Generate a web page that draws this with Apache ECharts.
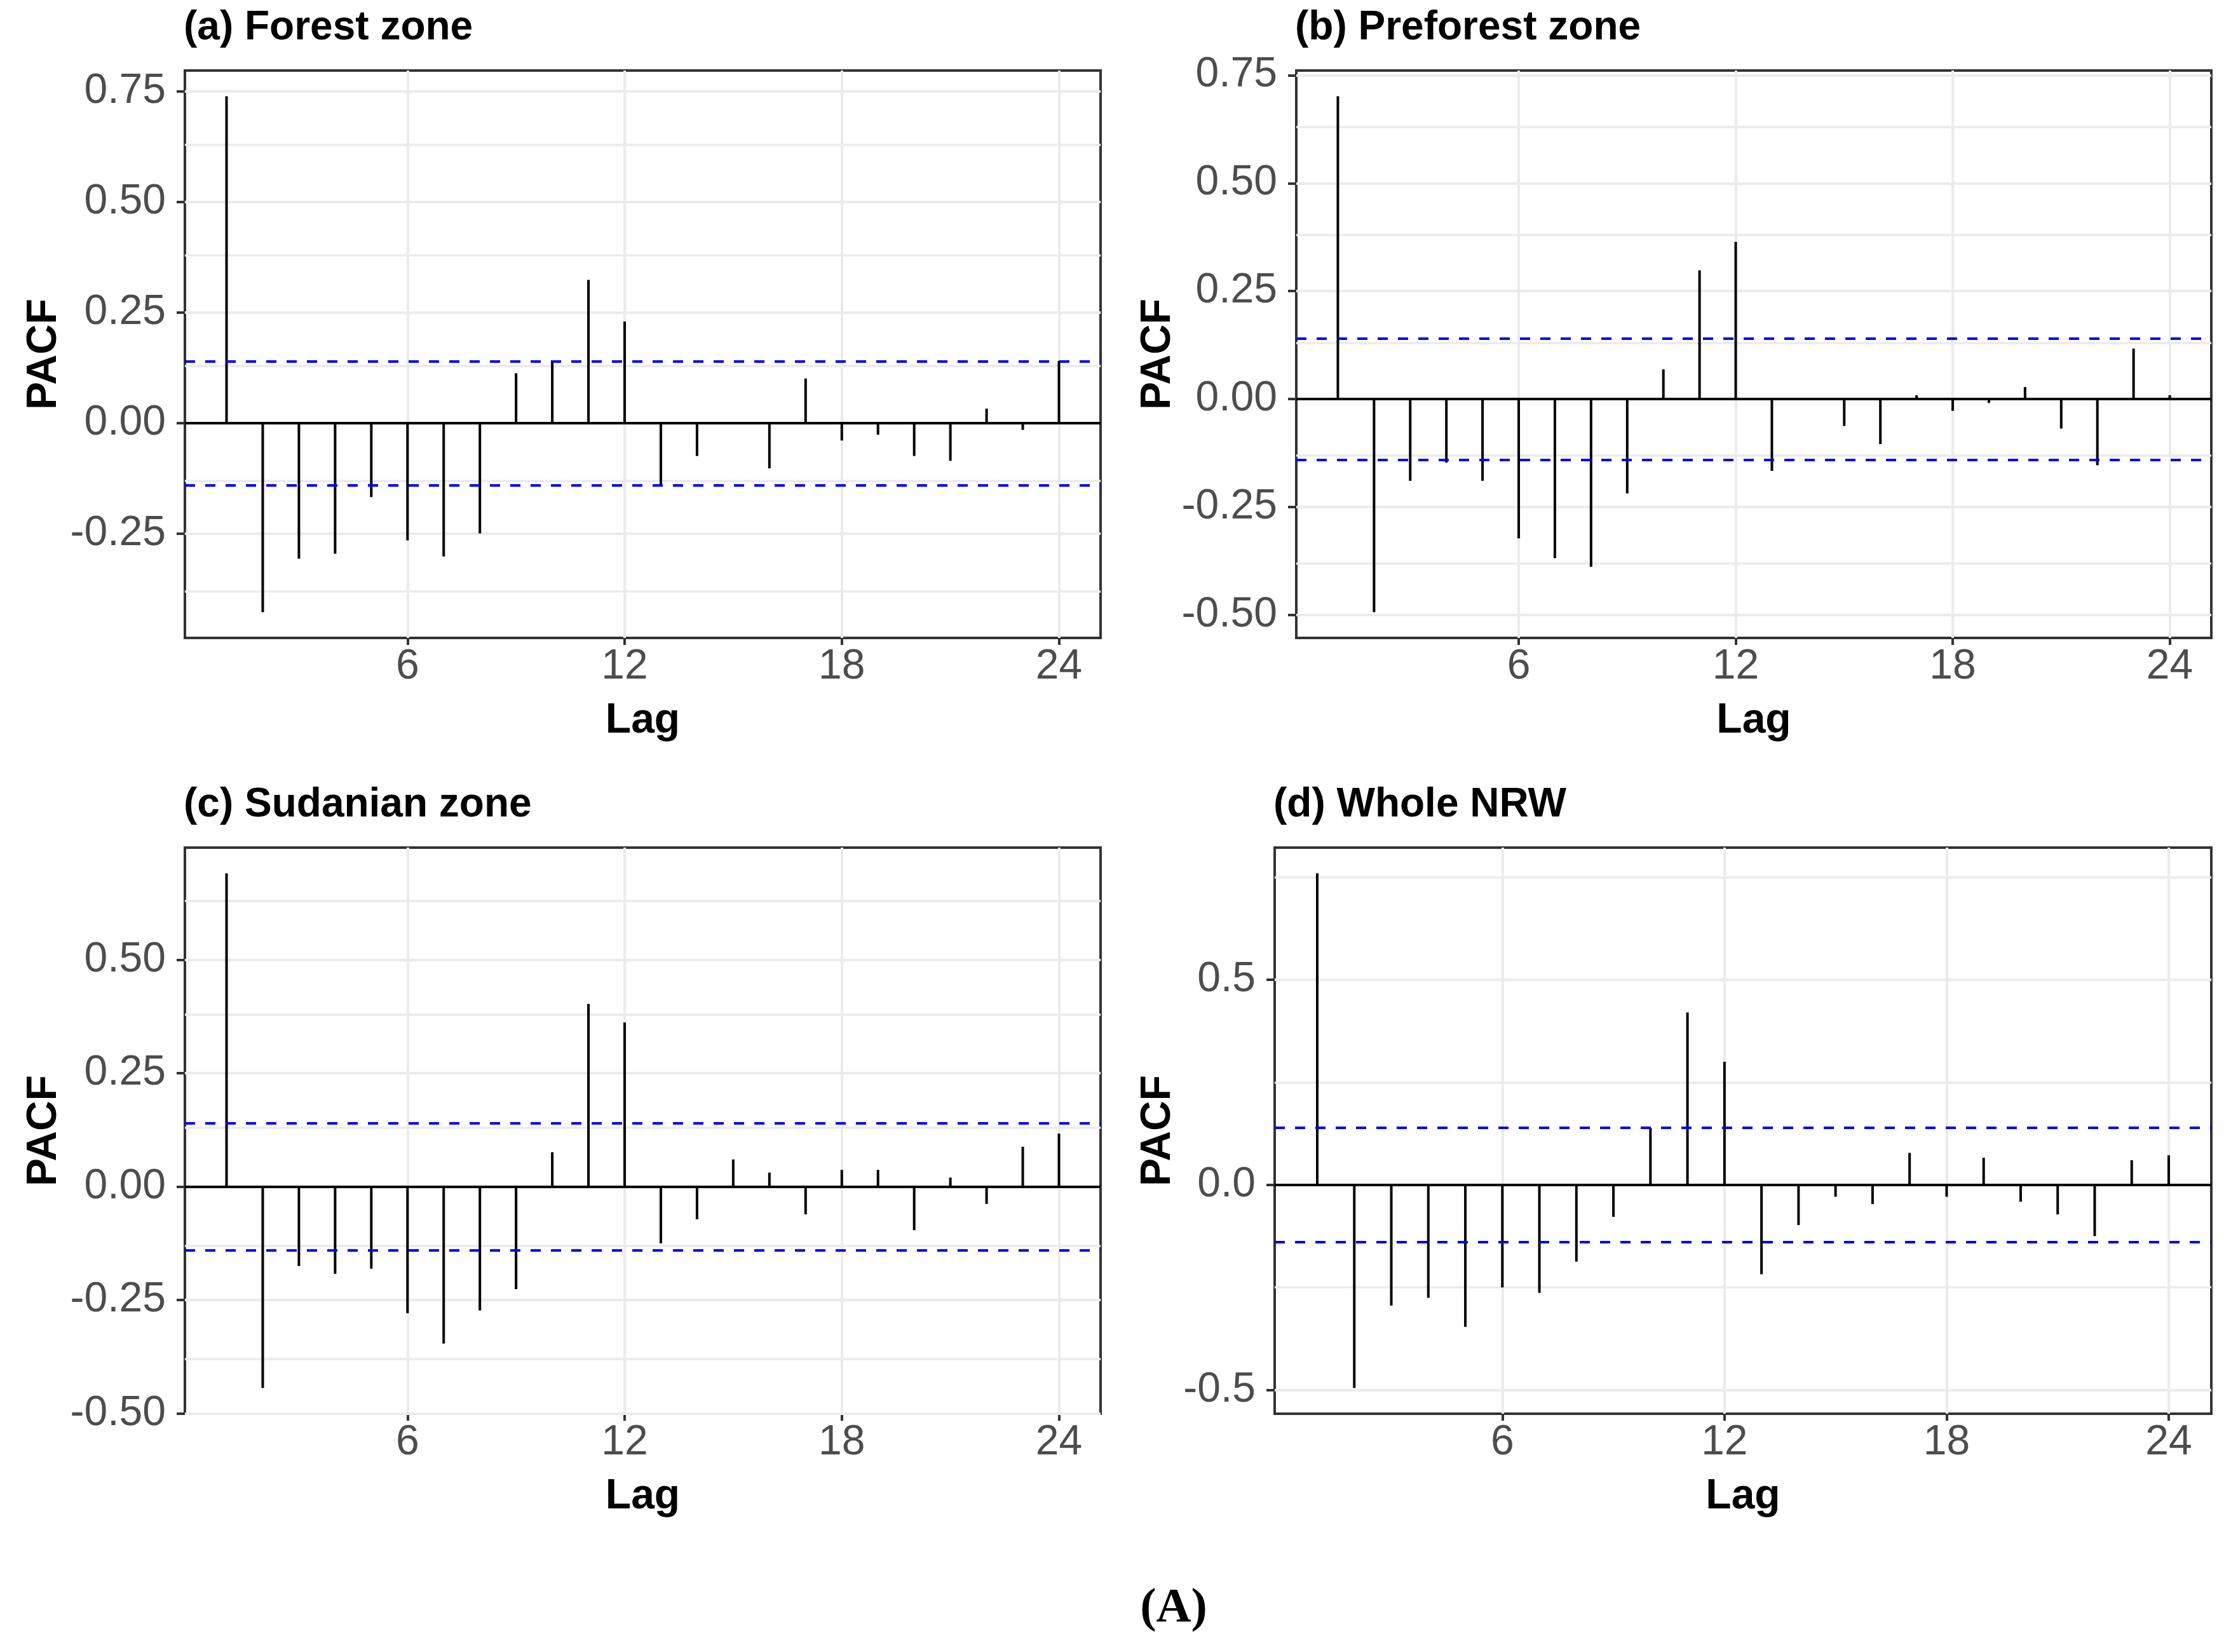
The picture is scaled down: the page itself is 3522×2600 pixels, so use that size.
<!DOCTYPE html>
<html>
<head>
<meta charset="utf-8">
<script src="https://cdn.jsdelivr.net/npm/echarts@6/dist/echarts.min.js"></script>
<style>
html,body{margin:0;padding:0;background:#ffffff;}
#chart{width:3522px;height:2600px;}
</style>
</head>
<body>
<div id="chart"></div>
<script>
// ---------------- data ----------------
const lags = [1,2,3,4,5,6,7,8,9,10,11,12,13,14,15,16,17,18,19,20,21,22,23,24];

const forestPacf    = [0.739,-0.427,-0.306,-0.295,-0.167,-0.265,-0.301,-0.249,0.113,0.141,0.324,0.230,-0.141,-0.074,0.002,-0.102,0.101,-0.039,-0.026,-0.074,-0.085,0.033,-0.015,0.141];
const preforestPacf = [0.701,-0.493,-0.189,-0.147,-0.189,-0.322,-0.368,-0.388,-0.218,0.069,0.298,0.364,-0.166,-0.002,-0.062,-0.104,0.009,-0.027,-0.009,0.028,-0.068,-0.153,0.117,0.009];
const sudanianPacf  = [0.691,-0.444,-0.175,-0.192,-0.181,-0.279,-0.346,-0.273,-0.226,0.076,0.403,0.362,-0.125,-0.072,0.060,0.031,-0.061,0.037,0.037,-0.096,0.020,-0.038,0.088,0.117];
const wholePacf     = [0.759,-0.495,-0.294,-0.275,-0.346,-0.250,-0.263,-0.187,-0.078,0.139,0.420,0.300,-0.218,-0.098,-0.029,-0.047,0.078,-0.029,0.066,-0.041,-0.072,-0.125,0.060,0.072];

const ciBound = 0.14;

const panelTitles = ['(a) Forest zone', '(b) Preforest zone', '(c) Sudanian zone', '(d) Whole NRW'];
const xTickValues = [6, 12, 18, 24];
const yTicksA = [-0.25, 0, 0.25, 0.5, 0.75];
const yTicksB = [-0.5, -0.25, 0, 0.25, 0.5, 0.75];
const yTicksC = [-0.5, -0.25, 0, 0.25, 0.5];
const yTicksD = [-0.5, 0, 0.5];
const yMinorA = [-0.375, -0.125, 0.125, 0.375, 0.625];
const yMinorB = [-0.375, -0.125, 0.125, 0.375, 0.625];
const yMinorC = [-0.375, -0.125, 0.125, 0.375, 0.625];
const yMinorD = [-0.25, 0.25, 0.75];
const xAxisTitle = 'Lag';
const yAxisTitle = 'PACF';
const captionText = '(A)';

// ---------------- layout ----------------
const FONT = "'Liberation Sans', Arial, sans-serif";
const panels = [
  {title: panelTitles[0], values: forestPacf,    ticks: yTicksA, minor: yMinorA, dec: 2, left: 291,  top: 111,  width: 1441, height: 893, nameGap: 188},
  {title: panelTitles[1], values: preforestPacf, ticks: yTicksB, minor: yMinorB, dec: 2, left: 2040, top: 111,  width: 1440, height: 893, nameGap: 181},
  {title: panelTitles[2], values: sudanianPacf,  ticks: yTicksC, minor: yMinorC, dec: 2, left: 291,  top: 1334, width: 1441, height: 891, nameGap: 188},
  {title: panelTitles[3], values: wholePacf,     ticks: yTicksD, minor: yMinorD, dec: 1, left: 2006, top: 1334, width: 1474, height: 891, nameGap: 150}
];

// ggplot-style 5% expansion
function expandRange(lo, hi) {
  const s = hi - lo;
  return [lo - 0.05 * s, hi + 0.05 * s];
}
const xRange = expandRange(Math.min(...lags), Math.max(...lags));

const grids = [], xAxes = [], yAxes = [], series = [], graphics = [];
const GRID_COLOR = '#EBEBEB';

panels.forEach((p, i) => {
  const yr = expandRange(Math.min(...p.values, -ciBound), Math.max(...p.values, ciBound));
  grids.push({
    left: p.left, top: p.top, width: p.width, height: p.height,
    show: true, borderColor: '#333333', borderWidth: 4, backgroundColor: 'transparent'
  });
  xAxes.push({
    gridIndex: i, type: 'value', min: xRange[0], max: xRange[1],
    axisLine: {show: false, onZero: false},
    axisTick: {show: true, customValues: xTickValues, length: 11, lineStyle: {color: '#333333', width: 4}},
    axisLabel: {customValues: xTickValues, margin: 13, fontSize: 66, color: '#4D4D4D', fontFamily: FONT},
    splitLine: {show: false},
    name: xAxisTitle, nameLocation: 'middle', nameGap: 98,
    nameTextStyle: {fontSize: 66, fontWeight: 'bold', color: '#000000', fontFamily: FONT}
  });
  yAxes.push({
    gridIndex: i, type: 'value', min: yr[0], max: yr[1],
    axisLine: {show: false, onZero: false},
    axisTick: {show: true, customValues: p.ticks, length: 13, lineStyle: {color: '#333333', width: 4}},
    axisLabel: {customValues: p.ticks, margin: 30, fontSize: 66, color: '#4D4D4D', fontFamily: FONT,
                formatter: (v) => Number(v).toFixed(p.dec)},
    splitLine: {show: false},
    name: yAxisTitle, nameLocation: 'middle', nameRotate: 90, nameGap: p.nameGap,
    nameTextStyle: {fontSize: 66, fontWeight: 'bold', color: '#000000', fontFamily: FONT}
  });

  // background grid lines
  const gridLines = [];
  xTickValues.forEach(v => gridLines.push({xAxis: v, lineStyle: {color: GRID_COLOR, width: 4, type: 'solid'}}));
  p.ticks.forEach(v => gridLines.push({yAxis: v, lineStyle: {color: GRID_COLOR, width: 4, type: 'solid'}}));
  p.minor.forEach(v => gridLines.push({yAxis: v, lineStyle: {color: GRID_COLOR, width: 3.5, type: 'solid'}}));
  series.push({
    type: 'line', xAxisIndex: i, yAxisIndex: i, data: [], silent: true, z: 1,
    markLine: {silent: true, z: 1, symbol: ['none', 'none'], label: {show: false}, animation: false, data: gridLines}
  });

  // zero line
  series.push({
    type: 'line', xAxisIndex: i, yAxisIndex: i, data: [], silent: true, z: 2,
    markLine: {silent: true, z: 2, symbol: ['none', 'none'], label: {show: false}, animation: false,
      data: [{yAxis: 0, lineStyle: {color: '#000000', width: 4, type: 'solid'}}]}
  });

  // PACF segments
  series.push({
    type: 'bar', xAxisIndex: i, yAxisIndex: i, z: 3,
    barWidth: 4, silent: true,
    itemStyle: {color: '#000000'},
    data: lags.map((l, k) => [l, p.values[k]])
  });

  // confidence bounds
  series.push({
    type: 'line', xAxisIndex: i, yAxisIndex: i, data: [], silent: true, z: 4,
    markLine: {silent: true, z: 6, symbol: ['none', 'none'], label: {show: false}, animation: false,
      data: [
        {yAxis: ciBound, lineStyle: {color: '#0000FF', width: 4, type: [16, 16]}},
        {yAxis: -ciBound, lineStyle: {color: '#0000FF', width: 4, type: [16, 16]}}
      ]}
  });

  // panel title
  graphics.push({
    type: 'text', left: p.left - 2, top: p.top - 70 - 29, silent: true,
    style: {text: p.title, font: 'bold 64px ' + FONT, fill: '#000000'}
  });
});

graphics.push({
  type: 'text', x: 1847, y: 2532, silent: true,
  style: {text: captionText, font: 'bold 76px "Liberation Serif", "Times New Roman", serif', fill: '#000000',
          align: 'center', verticalAlign: 'middle', textAlign: 'center', textVerticalAlign: 'middle'}
});

const chart = echarts.init(document.getElementById('chart'), null, {renderer: 'canvas'});
chart.setOption({
  animation: false,
  backgroundColor: '#ffffff',
  grid: grids,
  xAxis: xAxes,
  yAxis: yAxes,
  series: series,
  graphic: graphics
});
</script>
</body>
</html>
